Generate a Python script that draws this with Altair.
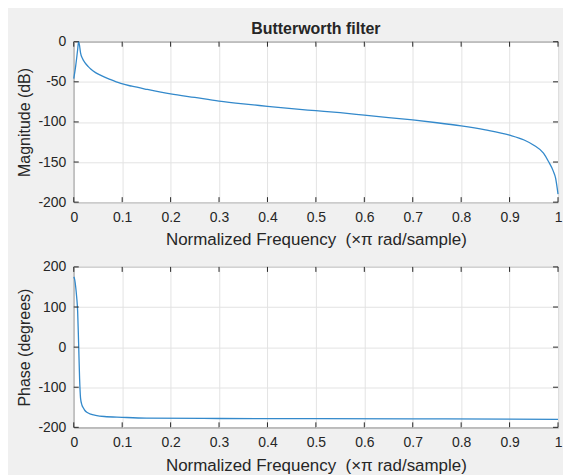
import altair as alt
import pandas as pd

# ---- data ----
mag_freq = [0, 0.004, 0.008, 0.010, 0.012, 0.014, 0.018, 0.023, 0.03, 0.035, 0.045,
            0.056, 0.075, 0.097, 0.12, 0.152, 0.2, 0.25, 0.3, 0.35, 0.4, 0.45, 0.5,
            0.55, 0.6, 0.65, 0.7, 0.75, 0.8, 0.85, 0.9, 0.93, 0.95, 0.97, 0.98, 0.99,
            0.995, 1.0]
mag_db = [-46, -30, -10, 0, -5, -14, -21, -26, -31, -34, -38.5,
          -42, -47, -52, -55.5, -59.5, -65, -69.5, -74, -77.5, -80.5, -83.5, -86,
          -88.5, -91.5, -94.5, -97.5, -101, -105, -110, -116.5, -122.5, -129, -139, -149, -161,
          -170, -190]

ph_freq = [0, 0.002, 0.004, 0.006, 0.008, 0.010, 0.012, 0.014, 0.017, 0.020, 0.023,
           0.028, 0.035, 0.045, 0.063, 0.1, 0.15, 0.3, 0.5, 0.7, 0.9, 1.0]
ph_deg = [175, 168, 150, 125, 90, 10, -77, -127, -145, -152, -158,
          -163, -167, -170, -173, -175, -177, -178, -178.5, -179, -179.5, -180]

x_ticks = [0, 0.1, 0.2, 0.3, 0.4, 0.5, 0.6, 0.7, 0.8, 0.9, 1]
mag_ticks = [-200, -150, -100, -50, 0]
ph_ticks = [-200, -100, 0, 100, 200]

title_text = "Butterworth filter"
x_title = "Normalized Frequency\u00a0\u00a0(\u00d7\u03c0 rad/sample)"
mag_title = "Magnitude (dB)"
ph_title = "Phase (degrees)"

# ---- styling ----
W, H = 486, 161
TK = 5
FONT = "Liberation Sans"
INK = "#262626"
GRID = "#e3e3e3"
LINE = "#3389cb"


def panel(xv, yv, yticks, ytitle, title=None):
    df = pd.DataFrame({"f": xv, "v": yv})
    xs = alt.Scale(domain=[0, 1], nice=False, zero=False)
    ys = alt.Scale(domain=[yticks[0], yticks[-1]], nice=False, zero=False)
    xaxis = alt.Axis(values=x_ticks, title=x_title, grid=True, gridColor=GRID,
                     ticks=False, domain=False, labelPadding=8,
                     labelExpr="'' + datum.value", labelFont=FONT, labelFontSize=14,
                     labelColor=INK, titleFont=FONT, titleFontSize=17,
                     titleFontWeight="normal", titleColor=INK, titlePadding=8,
                     labelFlush=False)
    yaxis = alt.Axis(values=yticks, title=ytitle, grid=True, gridColor=GRID,
                     ticks=False, domain=False, labelPadding=8,
                     labelExpr="'' + datum.value", labelFont=FONT, labelFontSize=14,
                     labelColor=INK, titleFont=FONT, titleFontSize=16,
                     titleFontWeight="normal", titleColor=INK, titlePadding=5,
                     labelFlush=False)
    line = alt.Chart(df).mark_line(color=LINE, strokeWidth=1.3, interpolate="monotone").encode(
        x=alt.X("f:Q", scale=xs, axis=xaxis),
        y=alt.Y("v:Q", scale=ys, axis=yaxis),
    )
    xt = pd.DataFrame({"f": x_ticks})
    yt = pd.DataFrame({"v": yticks})
    rx = alt.Chart(xt).mark_rule(color=INK, strokeWidth=1)
    ry = alt.Chart(yt).mark_rule(color=INK, strokeWidth=1)
    t_bot = rx.encode(x=alt.X("f:Q", scale=xs, axis=xaxis), y=alt.value(H), y2=alt.value(H - TK))
    t_top = rx.encode(x=alt.X("f:Q", scale=xs, axis=xaxis), y=alt.value(0), y2=alt.value(TK))
    t_lft = ry.encode(y=alt.Y("v:Q", scale=ys, axis=yaxis), x=alt.value(0), x2=alt.value(TK))
    t_rgt = ry.encode(y=alt.Y("v:Q", scale=ys, axis=yaxis), x=alt.value(W), x2=alt.value(W - TK))
    props = dict(width=W, height=H)
    if title:
        props["title"] = alt.Title(title, font=FONT, fontSize=16, fontWeight="bold",
                                   color=INK, anchor="middle", offset=-2)
    return alt.layer(line, t_bot, t_top, t_lft, t_rgt).properties(**props)


top = panel(mag_freq, mag_db, mag_ticks, mag_title, title_text)
bot = panel(ph_freq, ph_deg, ph_ticks, ph_title)

chart = alt.vconcat(top, bot, spacing=10).properties(
    background="#f0f0f0",
    padding={"left": 8, "top": 11, "right": 0, "bottom": 4},
).configure_view(fill="white", stroke=INK, strokeWidth=1)

chart.save("out.html", embed_options={"renderer": "svg", "actions": False})
